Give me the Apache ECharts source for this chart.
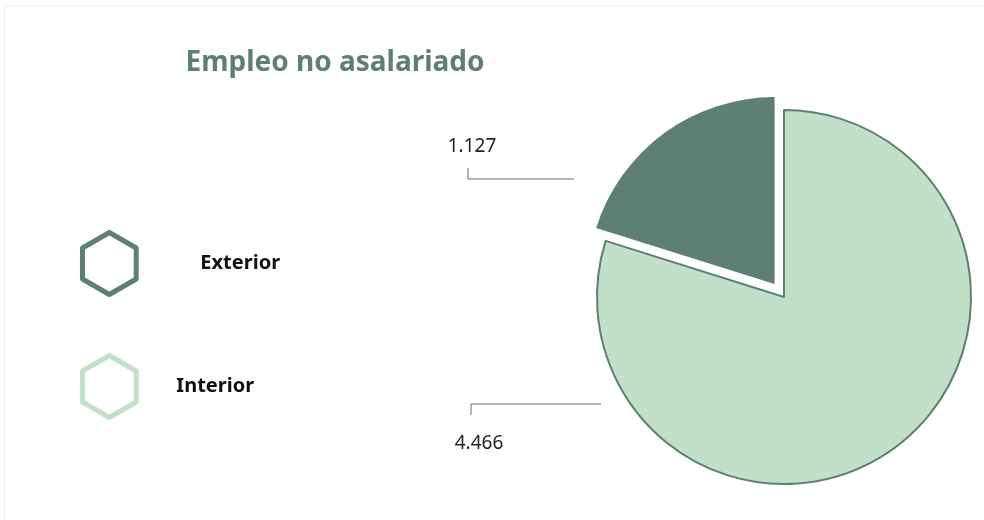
<!DOCTYPE html>
<html lang="es">
<head>
    <meta charset="UTF-8">
    <script src="https://cdn.jsdelivr.net/npm/echarts@6/dist/echarts.min.js"></script>
    <style>
        html, body { margin: 0; padding: 0; background: #fff; }
        #frame {
            position: absolute; left: 4px; top: 6px;
            width: 1000px; height: 540px;
            border: 1px solid #eeeeee;
        }
        #pic { position: absolute; left: 0; top: 0; width: 984px; height: 520px; }
    </style>
    <title>Empleo no asalariado</title>
</head>
<body>
<div id="frame"></div>
<div id="pic"></div>
<script type="text/javascript">
    // datos
    var categorias = ['Exterior', 'Interior'];
    var valores = [1127, 4466];
    var etiquetas = ['1.127', '4.466'];
    var colores = ['#5e7f73', '#c2dfc8'];

    // posicion de las etiquetas (estilo hoja de calculo)
    var labelPos = [
        { x: 472, y: 147, line: [[574, 179], [468, 179], [468, 168]] },
        { x: 479, y: 444, line: [[601, 404], [471, 404], [471, 415]] }
    ];

    var hexagono = 'path://M50,0 L93.3,25 L93.3,75 L50,100 L6.7,75 L6.7,25 Z';
    var centro = [784, 297];
    var offsetSel = 16;

    var chartDom = document.getElementById('pic');
    var myChart = echarts.init(chartDom);

    var total = valores.reduce(function (a, b) { return a + b; }, 0);
    // el sector Exterior va separado del centro
    var midAng = (90 + 180 * valores[0] / total) * Math.PI / 180;
    var centroSel = [centro[0] + offsetSel * Math.cos(midAng), centro[1] - offsetSel * Math.sin(midAng)];

    // serie que dibuja solo el sector "visible" (el otro queda como hueco transparente)
    function datosSerie(visible) {
        return categorias.map(function (c, i) {
            if (i !== visible) {
                return {
                    name: c, value: valores[i],
                    itemStyle: { color: 'transparent', borderWidth: 0 },
                    label: { show: false }, labelLine: { show: false }
                };
            }
            return {
                name: c,
                value: valores[i],
                itemStyle: {
                    color: colores[i],
                    borderColor: '#5e7f73',
                    borderWidth: i === 0 ? 0 : 2
                }
            };
        });
    }

    function leyenda(i, top, pad) {
        return {
            orient: 'vertical',
            left: 80,
            top: top,
            padding: 0,
            itemWidth: 56,
            itemHeight: 62,
            icon: hexagono,
            selectedMode: false,
            data: [{
                name: categorias[i],
                itemStyle: { color: 'transparent', borderColor: colores[i], borderWidth: 5 }
            }],
            textStyle: {
                fontFamily: 'Noto Sans',
                fontSize: 20,
                fontWeight: 'bold',
                color: '#111',
                padding: [5, 0, 0, pad]
            }
        };
    }

    function seriePie(visible, c) {
        return {
            type: 'pie',
            center: c,
            radius: 187,
            startAngle: 90,
            clockwise: false,
            silent: true,
            data: datosSerie(visible),
            label: {
                show: true,
                overflow: 'none',
                formatter: function (p) { return etiquetas[p.dataIndex]; },
                fontFamily: 'Noto Sans',
                fontSize: 19,
                color: '#222'
            },
            labelLine: {
                show: true,
                lineStyle: { color: '#666', width: 1 }
            },
            labelLayout: function (params) {
                var lp = labelPos[params.dataIndex];
                return {
                    x: lp.x,
                    y: lp.y,
                    align: 'center',
                    verticalAlign: 'middle',
                    labelLinePoints: lp.line
                };
            },
            emphasis: { disabled: true }
        };
    }

    var option = {
        animation: false,
        title: {
            text: 'Empleo no asalariado',
            left: 330,
            top: 44,
            textAlign: 'center',
            textStyle: {
                fontFamily: 'Noto Sans',
                fontSize: 28,
                fontWeight: 'bold',
                color: '#5e7f73'
            }
        },
        legend: [leyenda(0, 230, 58), leyenda(1, 353, 34)],
        series: [seriePie(1, centro), seriePie(0, centroSel)]
    };

    option && myChart.setOption(option);
</script>
</body>
</html>
